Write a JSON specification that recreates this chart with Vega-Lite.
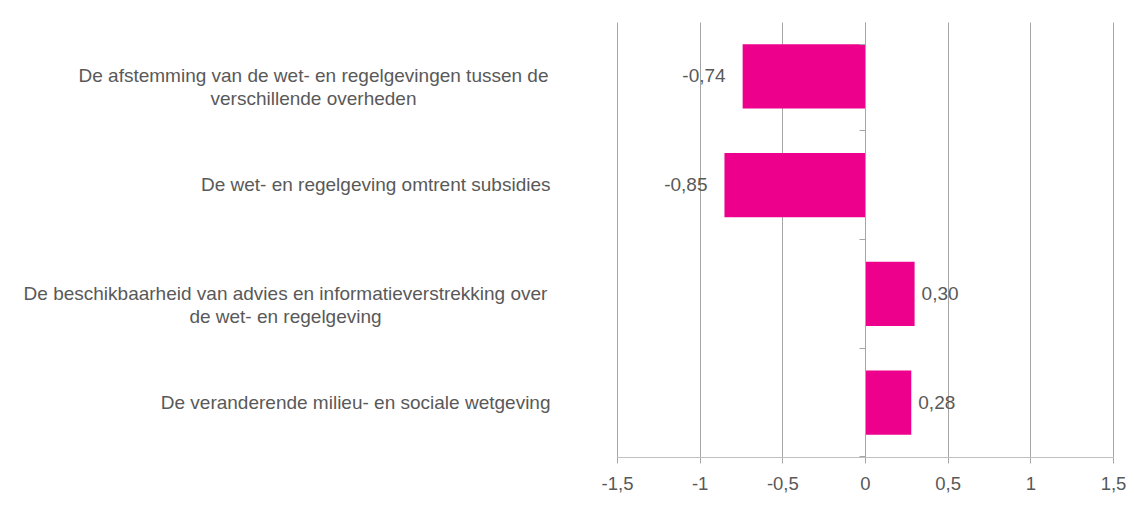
{
  "$schema": "https://vega.github.io/schema/vega-lite/v6.json",
  "width": 496,
  "height": 435,
  "autosize": {"type": "none"},
  "padding": {"left": 617, "top": 22, "right": 21, "bottom": 48},
  "background": "white",
  "config": {
    "view": {"stroke": null},
    "font": "Liberation Sans",
    "locale": {"number": {"decimal": ",", "thousands": ".", "grouping": [3], "currency": ["€", ""], "minus": "-"}}
  },
  "data": {
    "values": [
      {"label": "De afstemming van de wet- en regelgevingen tussen de|verschillende overheden", "value": -0.74},
      {"label": "De wet- en regelgeving omtrent subsidies ", "value": -0.85},
      {"label": "De beschikbaarheid van advies en informatieverstrekking over|de  wet- en regelgeving", "value": 0.30},
      {"label": "De veranderende milieu- en sociale  wetgeving", "value": 0.28}
    ]
  },
  "encoding": {
    "x": {
      "field": "value",
      "type": "quantitative",
      "scale": {"domain": [-1.5, 1.5], "nice": false, "zero": false},
      "axis": {
        "title": null,
        "values": [-1.5, -1, -0.5, 0, 0.5, 1, 1.5],
        "format": ".2~f",
        "grid": true,
        "gridColor": "#a6a6a6",
        "domainColor": "#c0c0c0",
        "tickColor": "#a6a6a6",
        "tickSize": 6,
        "labelFont": "Liberation Sans",
        "labelFontSize": 18.5,
        "labelColor": "#595959",
        "labelPadding": 11,
        "labelFlush": false
      }
    }
  },
  "layer": [
    {
      "mark": {"type": "bar", "color": "#EC008C"},
      "encoding": {
        "y": {
          "field": "label",
          "type": "nominal",
          "sort": null,
          "scale": {"paddingInner": 0.41, "paddingOuter": 0.205},
          "axis": {
            "orient": "left",
            "title": null,
            "domain": false,
            "ticks": false,
            "tickSize": 0,
            "labelExpr": "split(datum.value, '|')",
            "labelLineHeight": 23,
            "labelFont": "Liberation Sans",
            "labelFontSize": 19,
            "labelColor": "#595959",
            "labelLimit": 0,
            "labelAlign": {"condition": {"test": "indexof(datum.value, '|') >= 0", "value": "center"}, "value": "right"},
            "labelPadding": {"condition": [
              {"test": "indexof(datum.value, 'afstemming') >= 0", "value": 304},
              {"test": "indexof(datum.value, 'beschikbaarheid') >= 0", "value": 332}
            ], "value": 67},
            "grid": false
          }
        }
      }
    },
    {
      "transform": [{"filter": "datum.value < 0"}],
      "mark": {"type": "text", "align": "right", "baseline": "middle", "dx": -17, "fontSize": 19, "color": "#595959", "font": "Liberation Sans"},
      "encoding": {
        "y": {
          "field": "label",
          "type": "nominal",
          "sort": null,
          "axis": {
            "orient": "left",
            "offset": -248,
            "title": null,
            "labels": false,
            "domainColor": "#a6a6a6",
            "tickColor": "#a6a6a6",
            "tickSize": 6,
            "bandPosition": 1.347,
            "tickExtra": true,
            "grid": false,
            "zindex": 1
          }
        },
        "text": {"field": "value", "type": "quantitative", "format": ".2f"}
      }
    },
    {
      "transform": [{"filter": "datum.value >= 0"}],
      "mark": {"type": "text", "align": "left", "baseline": "middle", "dx": 7, "fontSize": 19, "color": "#595959", "font": "Liberation Sans"},
      "encoding": {
        "y": {"field": "label", "type": "nominal", "sort": null, "axis": null},
        "text": {"field": "value", "type": "quantitative", "format": ".2f"}
      }
    }
  ],
  "resolve": {"axis": {"y": "independent"}}
}
